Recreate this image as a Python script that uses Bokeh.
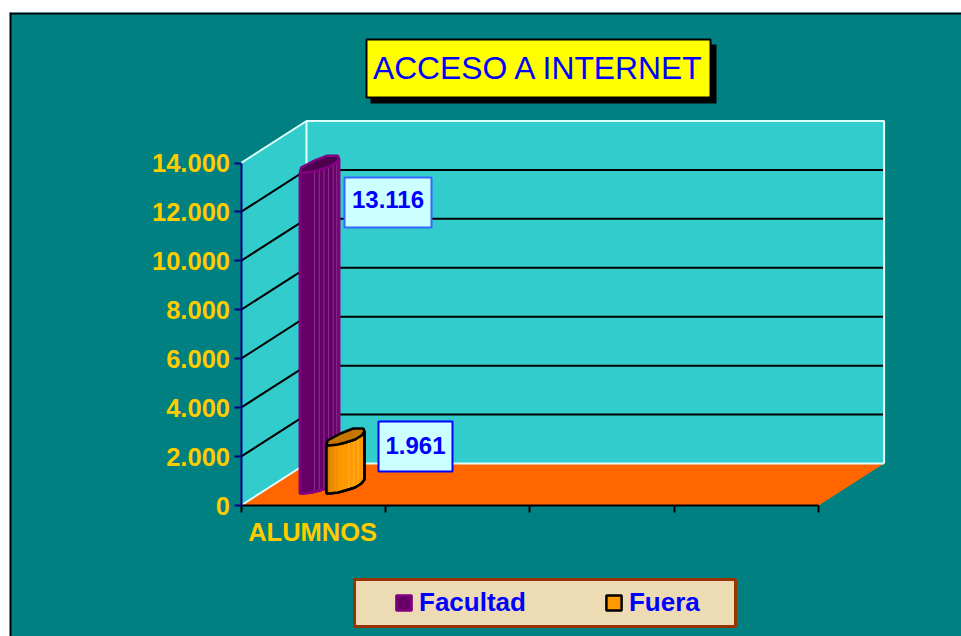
import numpy as np
from bokeh.plotting import figure
from bokeh.models import LinearAxis, FixedTicker, Range1d, Legend, LegendItem, Span
from bokeh.core.properties import value
from bokeh.embed import file_html
from bokeh.resources import INLINE

# ---- data ----
categories = ["ALUMNOS"]
series_names = ["Facultad", "Fuera"]
facultad = [13116]
fuera = [1961]
y_ticks = [0, 2000, 4000, 6000, 8000, 10000, 12000, 14000]
x_ticks = [0, 1, 2, 3, 4]
chart_title = "ACCESO A INTERNET"

# ---- layout ----
W, H = 961, 636
PX_PER_UNIT_Y = 342.5 / 14000
PX_PER_CAT = 144.4
X0_PX, Y0_PX = 240.5, 505         # value 0 on the front plane
FRAME_L, FRAME_T = 9, 12          # frame begins here
FRAME_R, FRAME_B = W, H


def X(px):
    return (np.asarray(px, float) - X0_PX) / PX_PER_CAT


def Y(px):
    return (Y0_PX - np.asarray(px, float)) / PX_PER_UNIT_Y


def dX(px):
    return np.asarray(px, float) / PX_PER_CAT


def dY(px):
    return np.asarray(px, float) / PX_PER_UNIT_Y


DEPTH_X, DEPTH_Y = dX(65.5), dY(42)
FONT = value("Liberation Sans")

p = figure(width=W, height=H, output_backend="svg", toolbar_location=None,
           x_range=Range1d(float(X(FRAME_L)), float(X(FRAME_R))),
           y_range=Range1d(float(Y(FRAME_B)), float(Y(FRAME_T))),
           x_axis_type=None, y_axis_type=None,
           min_border_left=FRAME_L, min_border_top=FRAME_T,
           min_border_right=0, min_border_bottom=0,
           background_fill_color="#008080", border_fill_color="#FFFFFF",
           outline_line_color=None)
p.grid.visible = False

# outer black frame, left and top only (the rest is beyond the picture)
p.add_layout(Span(location=float(X(FRAME_L + 1)), dimension="height", line_color="#000000", line_width=2))
p.add_layout(Span(location=float(Y(FRAME_T + 1)), dimension="width", line_color="#000000", line_width=2))

# ---- 3D box ----
x_max = x_ticks[-1]
y_max = y_ticks[-1]
WALL = "#33CCCC"
EDGE = "#DFFFFF"
p.patch([0, DEPTH_X, DEPTH_X, 0], [0, DEPTH_Y, y_max + DEPTH_Y, y_max], fill_color=WALL, line_color=None)
p.patch([DEPTH_X, DEPTH_X + x_max, DEPTH_X + x_max, DEPTH_X], [DEPTH_Y, DEPTH_Y, DEPTH_Y + y_max, DEPTH_Y + y_max],
        fill_color=WALL, line_color=None)
p.patch([0, x_max, x_max + DEPTH_X, DEPTH_X], [0, 0, DEPTH_Y, DEPTH_Y], fill_color="#FF6600", line_color=None)

grid = y_ticks[1:-1]
p.multi_line([[0, DEPTH_X, DEPTH_X + x_max]] * len(grid), [[t, t + DEPTH_Y, t + DEPTH_Y] for t in grid],
             line_color="#000000", line_width=2)
p.line([0, DEPTH_X, DEPTH_X + x_max, DEPTH_X + x_max],
       [y_max, y_max + DEPTH_Y, y_max + DEPTH_Y, DEPTH_Y],
       line_color=EDGE, line_width=2)
p.line([DEPTH_X, DEPTH_X], [DEPTH_Y, y_max + DEPTH_Y], line_color=EDGE, line_width=2)
p.line([0, DEPTH_X, DEPTH_X + x_max], [0, DEPTH_Y, DEPTH_Y], line_color=EDGE, line_width=2)


# ---- cylinder-like columns ----
def column(left_px, width_px, val, body, edge, top, stripes, stripe_colors, edge_w):
    base_px = 493
    x0 = X(left_px)
    b0 = Y(base_px)
    w = dX(width_px)
    # curve profiles (u across the width, rise in px)
    u_f = np.array([0, .08, .30, .50, .75, .92, 1])
    r_f = np.array([0, 0, 1, 3, 6, 10, 14])
    u_b = np.array([1, .97, .70, .37, .03, 0])
    r_b = np.array([14, 17, 17, 12, 5, 0])
    xs_f = x0 + u_f * w
    bot = b0 + dY(r_f)
    topf = b0 + val + dY(r_f)
    # body
    r = p.patch(np.r_[xs_f, xs_f[::-1]], np.r_[bot, topf[::-1]], fill_color=body, line_color=edge, line_width=edge_w)
    # shaded stripes
    for (a, b), c in zip(stripes, stripe_colors):
        us = np.linspace(a, b, 5)
        rr = np.interp(us, u_f, r_f)
        p.patch(np.r_[x0 + us * w, (x0 + us * w)[::-1]],
                np.r_[b0 + dY(rr), (b0 + val + dY(rr))[::-1]], fill_color=c, line_color=None)
    # top
    xt = np.r_[xs_f, x0 + u_b * w]
    yt = np.r_[topf, b0 + val + dY(r_b)]
    p.patch(xt, yt, fill_color=top, line_color=edge, line_width=edge_w)
    # outline again
    p.line(np.r_[xs_f, xs_f[-1]], np.r_[bot, topf[-1]], line_color=edge, line_width=edge_w)
    p.line([xs_f[0], xs_f[0]], [bot[0], topf[0]], line_color=edge, line_width=edge_w)
    return r


r_fac = column(299.5, 39, facultad[0], "#660066", "#800080", "#4D004D",
               [(.36, .385), (.48, .505), (.60, .625), (.72, .745), (.84, .865), (.93, .955)],
               ["#8A338A"] * 6, 2.5)
r_fue = column(326, 38, fuera[0], "#FF9900", "#000000", "#C47600",
               [(0, .10), (.10, .20), (.20, .30), (.30, .40), (.58, .60), (.71, .73), (.82, .84)],
               ["#D98200", "#E68A00", "#F29100", "#FA9600", "#FFB84D", "#FFB84D", "#FFB84D"], 2.5)


# ---- value labels ----
def fmt(v):
    return f"{v:,}".replace(",", ".")


def data_label(l, t, r, b, txt, border, text_y):
    p.quad(left=[X(l)], right=[X(r)], top=[Y(t)], bottom=[Y(b)], fill_color="#CCFFFF", line_color=border, line_width=2)
    p.text([X((l + r) / 2)], [Y(text_y)], text=[txt], text_font=FONT, text_font_style="bold",
           text_font_size="24px", text_color="#0000FF", text_align="center", text_baseline="middle")


data_label(344, 177, 431, 227, fmt(facultad[0]), "#3366FF", 199)
data_label(378, 421, 452, 471, fmt(fuera[0]), "#0000FF", 445)

# ---- title ----
p.quad(left=[X(370)], right=[X(716)], top=[Y(44)], bottom=[Y(103)], fill_color="#000000", line_color=None)
p.quad(left=[X(366)], right=[X(710)], top=[Y(39)], bottom=[Y(97)], fill_color="#FFFF00", line_color="#000000", line_width=2)
p.text([X(538.5)], [Y(67)], text=[chart_title], text_font=FONT, text_font_size="31.8px", text_color="#0000FF",
       text_align="center", text_baseline="middle")

# ---- axes ----
y_axis = LinearAxis(fixed_location=0, ticker=FixedTicker(ticks=y_ticks), bounds=(0, y_max),
                    major_label_overrides={t: fmt(t) for t in y_ticks},
                    axis_line_color="#000080", axis_line_width=2,
                    major_tick_line_color="#000080", major_tick_line_width=2,
                    major_tick_in=0, major_tick_out=7, minor_tick_line_color=None,
                    major_label_text_color="#FFCC00", major_label_text_font="Liberation Sans",
                    major_label_text_font_style="bold", major_label_text_font_size="25.5px",
                    major_label_standoff=4)
p.add_layout(y_axis, "left")

x_axis = LinearAxis(fixed_location=0, ticker=FixedTicker(ticks=x_ticks), bounds=(0, x_max),
                    major_label_text_font_size="0px", major_label_text_color=None,
                    axis_line_color="#000000", axis_line_width=2,
                    major_tick_line_color="#000000", major_tick_line_width=2,
                    major_tick_in=0, major_tick_out=7, minor_tick_line_color=None)
p.add_layout(x_axis, "below")

cat_axis = LinearAxis(fixed_location=0, ticker=FixedTicker(ticks=[0.496]), axis_line_color=None,
                      major_tick_line_color=None, minor_tick_line_color=None,
                      major_label_overrides={0.496: categories[0]},
                      major_label_text_color="#FFCC00", major_label_text_font="Liberation Sans",
                      major_label_text_font_style="bold", major_label_text_font_size="25.5px",
                      major_label_standoff=6)
p.add_layout(cat_axis, "below")

# ---- legend ----
p.quad(left=[X(354)], right=[X(735)], top=[Y(579)], bottom=[Y(626)], fill_color="#EDDBB3", line_color="#993300", line_width=3)

legend = Legend(items=[LegendItem(label=series_names[0], renderers=[r_fac]),
                       LegendItem(label=series_names[1], renderers=[r_fue])],
                orientation="horizontal", location=(394 - FRAME_L, FRAME_B - 627 + 9),
                background_fill_alpha=0, border_line_color=None, padding=10, margin=0,
                glyph_width=19, glyph_height=19, label_standoff=6, spacing=78,
                label_text_font="Liberation Sans", label_text_font_style="bold",
                label_text_font_size="26px", label_text_color="#0000FF")
p.add_layout(legend, "center")

open("out.html", "w").write(file_html(p, INLINE))
